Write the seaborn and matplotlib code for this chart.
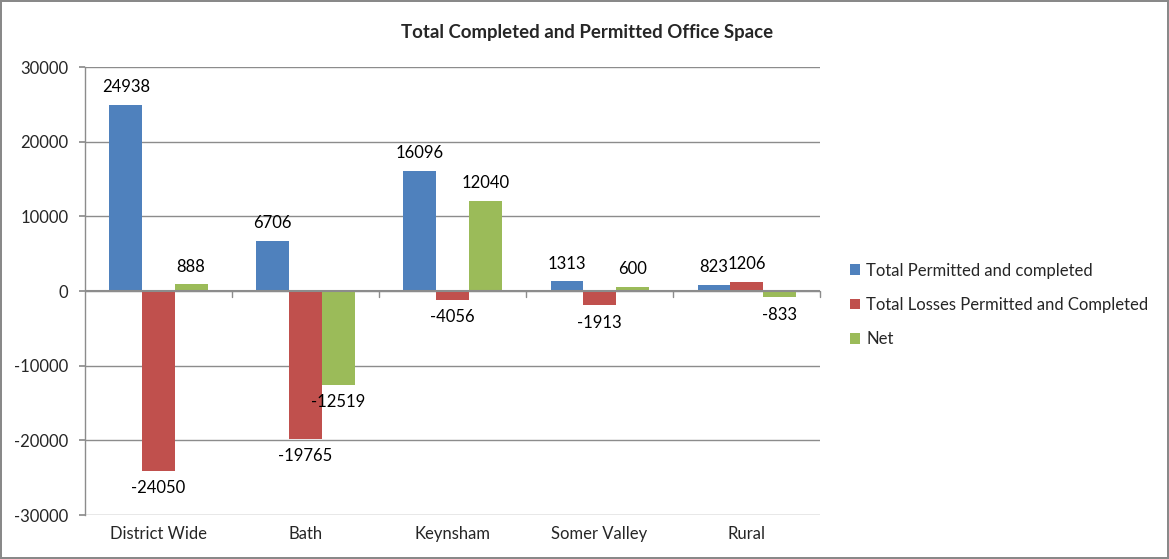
import matplotlib
matplotlib.use("Agg")
import matplotlib.pyplot as plt
import matplotlib.transforms as mtransforms
import seaborn as sns
import pandas as pd

categories = ["District Wide", "Bath", "Keynsham", "Somer Valley", "Rural"]
series = ["Total Permitted and completed", "Total Losses Permitted and Completed", "Net"]
permitted = [24938, 6706, 16096, 1313, 823]
losses = [-24050, -19765, -1150, -1913, 1206]          # bar heights as drawn
losses_labels = ["-24050", "-19765", "-4056", "-1913", "1206"]
net = [888, -12519, 12040, 600, -833]
yticks = [-30000, -20000, -10000, 0, 10000, 20000, 30000]
title = "Total Completed and Permitted Office Space"
colors = ["#4F81BD", "#C0504D", "#9BBB59"]

sns.set_theme(style="white")
plt.rcParams["font.family"] = ["Lato", "DejaVu Sans"]

rows = []
for s, vals in zip(series, [permitted, losses, net]):
    for c, v in zip(categories, vals):
        rows.append({"Category": c, "Series": s, "Value": v})
df = pd.DataFrame(rows)

fig = plt.figure(figsize=(11.69, 5.59), dpi=100)
fig.patch.set_edgecolor("#898989")
fig.patch.set_linewidth(1.5)
ax = fig.add_axes([0.0727, 0.0787, 0.6288, 0.8013])

sns.barplot(data=df, x="Category", y="Value", hue="Series", order=categories,
            hue_order=series, palette=colors, width=0.667, saturation=1,
            errorbar=None, ax=ax, edgecolor="none", linewidth=0)

labels_all = [[str(v) for v in permitted], losses_labels, [str(v) for v in net]]
for cont, labs in zip(ax.containers, labels_all):
    ax.bar_label(cont, labels=labs, padding=7, fontsize=12, color="black")

ax.set_ylim(-30000, 30000)
ax.set_xlim(-0.5, len(categories) - 0.5)
ax.set_yticks(yticks)
ax.set_yticklabels([str(t) for t in yticks], fontsize=12)
ax.yaxis.grid(True, color="#8C8C8C", linewidth=1)
ax.set_axisbelow(True)
ax.set_xlabel("")
ax.set_ylabel("")
ax.tick_params(axis="y", length=4, color="#8C8C8C", direction="out", pad=8, left=True)
ax.tick_params(axis="x", length=0, labelsize=12, pad=8)
for s in ["top", "right", "bottom"]:
    ax.spines[s].set_visible(False)
ax.spines["left"].set_color("#8C8C8C")
ax.spines["left"].set_linewidth(1)
ax.axhline(0, color="#8C8C8C", linewidth=1.5, zorder=3)

# category tick marks on the zero line
trans = mtransforms.blended_transform_factory(ax.transData, ax.transData)
for b in range(1, len(categories) + 1):
    ax.plot([b - 0.5, b - 0.5], [0, -800], color="#8C8C8C", linewidth=1,
            transform=trans, clip_on=False, zorder=3)

ax.legend(loc="center left", bbox_to_anchor=(1.02, 0.469), frameon=False,
          fontsize=12, handlelength=0.6, handleheight=0.6, handletextpad=0.4,
          labelspacing=1.1)

fig.text(0.502, 0.942, title, ha="center", va="center", fontsize=13.4, fontweight="bold")

fig.savefig("out.png", dpi=100, edgecolor=fig.get_edgecolor())
